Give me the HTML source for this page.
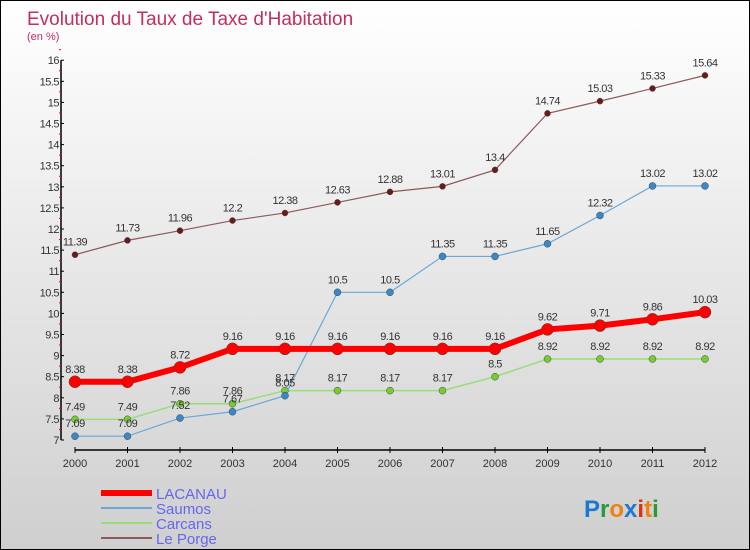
<!DOCTYPE html>
<html><head><meta charset="utf-8"><style>
body{margin:0}
#c{width:748px;height:548px;border:1px solid #000;background:linear-gradient(#fff,#cfcfcf);position:relative;overflow:hidden;font-family:"Liberation Sans",sans-serif}
</style></head><body>
<div id="c">
<svg id="s" width="748" height="548"></svg>
</div>
<script>
const years=[2000,2001,2002,2003,2004,2005,2006,2007,2008,2009,2010,2011,2012];
const lacanau=[8.38,8.38,8.72,9.16,9.16,9.16,9.16,9.16,9.16,9.62,9.71,9.86,10.03];
const saumos=[7.09,7.09,7.52,7.67,8.05,10.5,10.5,11.35,11.35,11.65,12.32,13.02,13.02];
const carcans=[7.49,7.49,7.86,7.86,8.17,8.17,8.17,8.17,8.5,8.92,8.92,8.92,8.92];
const leporge=[11.39,11.73,11.96,12.2,12.38,12.63,12.88,13.01,13.4,14.74,15.03,15.33,15.64];
const yTicks=[7,7.5,8,8.5,9,9.5,10,10.5,11,11.5,12,12.5,13,13.5,14,14.5,15,15.5,16];
const NS='http://www.w3.org/2000/svg';
const svg=document.getElementById('s');
const X=i=>74+i*52.5, Y=v=>439-(v-7)*42.2;
function el(t,a,txt){const e=document.createElementNS(NS,t);for(const k in a)e.setAttribute(k,a[k]);if(txt!==undefined)e.textContent=txt;svg.appendChild(e);return e;}
const title=el('text',{x:26,y:24,'font-size':19,fill:'#c0305a'},"Evolution du Taux de Taxe d'Habitation");

const sub=el('text',{x:26,y:39,'font-size':11,fill:'#c0305a'},"(en %)");

const ya=el('line',{x1:60,y1:Y(16),x2:60,y2:Y(7),stroke:'#000','stroke-width':1.5});

yTicks.forEach(v=>{
 el('line',{x1:60,y1:Y(v),x2:63,y2:Y(v),stroke:'#000'});
 el('line',{x1:58,y1:Y(v+0.25),x2:60,y2:Y(v+0.25),stroke:'#f00'});
 const t=el('text',{x:58,y:Y(v)+4,'font-size':11,'text-anchor':'end',fill:'#333','letter-spacing':'-0.5'},String(v));
 
});
const xa=el('line',{x1:X(0),y1:449,x2:X(12),y2:449,stroke:'#000','stroke-width':1.5});

years.forEach((y,i)=>{
 el('line',{x1:X(i),y1:446,x2:X(i),y2:452,stroke:'#000'});
 const t=el('text',{x:X(i),y:466,'font-size':11,'text-anchor':'middle',fill:'#333'},String(y));
 
});
function series(d,name,col,w,r,dot){
 const p=el('polyline',{points:d.map((v,i)=>X(i)+','+Y(v)).join(' '),fill:'none',stroke:col,'stroke-width':w});
 
 d.forEach((v,i)=>{
  const c=el('circle',{cx:X(i),cy:Y(v),r:r,fill:dot,stroke:'#444','stroke-width':0.5});
  
  const t=el('text',{x:X(i),y:Y(v)-9,'font-size':11,'text-anchor':'middle',fill:'#333','letter-spacing':'-0.5'},String(v));
  
 });
}
series(leporge,'le-porge','#8b5a5a',1.2,3,'#6b1a1a');
series(carcans,'carcans','#99dd77',1.5,3.5,'#77cc33');
series(saumos,'saumos','#6aa8d8',1.2,3.5,'#3a88c8');
series(lacanau,'lacanau','#f00',6,6,'#f00');
const leg=[['LACANAU','#f00',6],['Saumos','#6aa8d8',2],['Carcans','#99dd77',2],['Le Porge','#8b5a5a',2]];
leg.forEach((l,i)=>{
 const y=492+i*15;
 const ln=el('line',{x1:100,y1:y,x2:151,y2:y,stroke:l[1],'stroke-width':l[2]});
 
 const t=el('text',{x:155,y:y+6,'font-size':15,fill:'#6666ee'},l[0]);
 
});
const logo=el('text',{x:583,y:516,'font-size':24,'font-weight':'bold'});

[['P','#1a7ad0'],['r','#2a9a3a'],['o','#f08010'],['x','#1a7ad0'],['i','#e03010'],['t','#f08010'],['i','#2a9a3a']].forEach(a=>{const s=document.createElementNS(NS,'tspan');s.setAttribute('fill',a[1]);s.textContent=a[0];logo.appendChild(s);});
</script>
</body></html>
